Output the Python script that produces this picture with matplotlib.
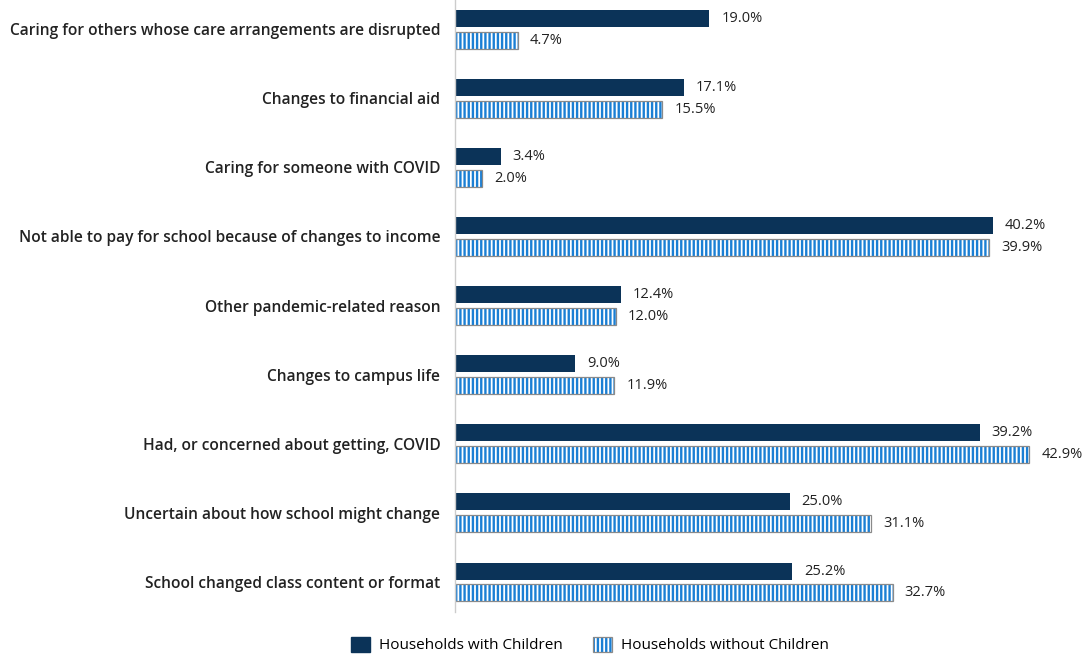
import numpy as np
import matplotlib.pyplot as plt
from matplotlib.patches import Patch
from matplotlib.legend_handler import HandlerTuple

categories = [
    'Caring for others whose care arrangements are disrupted',
    'Changes to financial aid',
    'Caring for someone with COVID',
    'Not able to pay for school because of changes to income',
    'Other pandemic-related reason',
    'Changes to campus life',
    'Had, or concerned about getting, COVID',
    'Uncertain about how school might change',
    'School changed class content or format',
]
with_children = [19.0, 17.1, 3.4, 40.2, 12.4, 9.0, 39.2, 25.0, 25.2]
without_children = [4.7, 15.5, 2.0, 39.9, 12.0, 11.9, 42.9, 31.1, 32.7]

navy = '#0b3358'
blue = '#1a7fd4'
grey = '#8a8a8a'

plt.rcParams['font.family'] = ['Open Sans', 'DejaVu Sans']
plt.rcParams['hatch.linewidth'] = 1.7

fig = plt.figure(figsize=(10.92, 6.59), dpi=100)
ax = fig.add_axes([455 / 1092, 47 / 659, 637 / 1092, 612 / 659])

y = np.arange(len(categories))
h = 0.246
off = 0.159

ax.barh(y - off, with_children, height=h, color=navy, linewidth=0)
ax.barh(y + off, without_children, height=h, color='white', edgecolor=blue,
        hatch='||||', linewidth=0)
ax.barh(y + off, without_children, height=h, fill=False, edgecolor=grey,
        linewidth=0.9)

for i in range(len(categories)):
    ax.text(with_children[i] + 0.9, y[i] - off, f'{with_children[i]:.1f}%',
            va='center', ha='left', fontsize=10.5, color='#222222')
    ax.text(without_children[i] + 0.9, y[i] + off, f'{without_children[i]:.1f}%',
            va='center', ha='left', fontsize=10.5, color='#222222')

ax.set_xlim(0, 47.6)
ax.set_ylim(8 + 0.434, -0.42)
ax.set_yticks(y)
ax.set_yticklabels(categories, fontsize=11.2, fontweight='semibold', color='#222222')
ax.tick_params(axis='y', length=0, pad=10.5)
ax.set_xticks([])
for s in ['top', 'right', 'bottom']:
    ax.spines[s].set_visible(False)
ax.spines['left'].set_color('#cccccc')
ax.spines['left'].set_linewidth(1)

h1 = Patch(facecolor=navy, edgecolor=navy)
h2a = Patch(facecolor='white', edgecolor=blue, hatch='||||', linewidth=0)
h2b = Patch(fill=False, edgecolor=grey, linewidth=0.9)
fig.legend([h1, (h2a, h2b)], ['Households with Children', 'Households without Children'],
           handler_map={tuple: HandlerTuple(ndivide=1, pad=0)},
           loc='center', bbox_to_anchor=(590 / 1092, 1 - 645 / 659), ncol=2,
           frameon=False, fontsize=11, handlelength=1.2, handleheight=1.2,
           columnspacing=2.0, handletextpad=0.6)

fig.savefig('out.png', dpi=100)
